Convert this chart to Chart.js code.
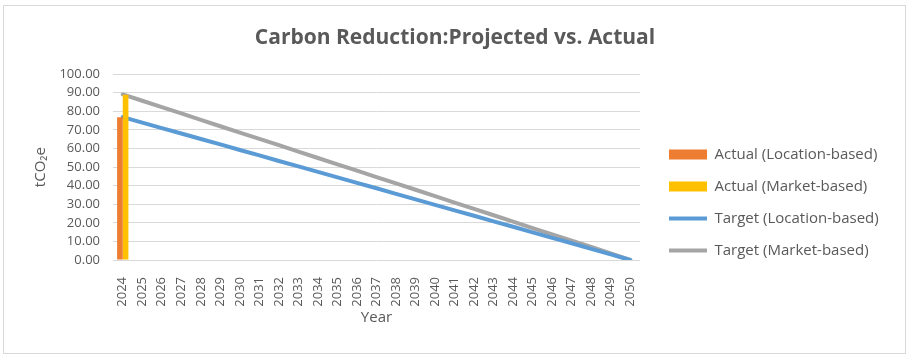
<!DOCTYPE html>
<html>
<head>
<meta charset="utf-8">
<script src="https://cdn.jsdelivr.net/npm/chart.js@4/dist/chart.umd.min.js"></script>
<style>
  html, body { margin: 0; padding: 0; background: #ffffff; }
  #wrap { position: relative; width: 910px; height: 355px; }
  canvas { display: block; }
</style>
</head>
<body>
<div id="wrap"><canvas id="c" width="910" height="355"></canvas></div>
<script>
const years = ['2024','2025','2026','2027','2028','2029','2030','2031','2032','2033','2034','2035','2036','2037','2038','2039','2040','2041','2042','2043','2044','2045','2046','2047','2048','2049','2050'];
const actualLocation = [76.8, null, null, null, null, null, null, null, null, null, null, null, null, null, null, null, null, null, null, null, null, null, null, null, null, null, null];
const actualMarket = [89.0, null, null, null, null, null, null, null, null, null, null, null, null, null, null, null, null, null, null, null, null, null, null, null, null, null, null];
const targetLocation = [76.9, 73.9, 71.0, 68.1, 65.1, 62.2, 59.2, 56.3, 53.3, 50.4, 47.4, 44.5, 41.5, 38.6, 35.6, 32.6, 29.7, 26.7, 23.8, 20.8, 17.9, 14.9, 11.9, 9.0, 6.0, 3.0, 0.0];
const targetMarket = [89.1, 85.7, 82.3, 78.9, 75.4, 72.0, 68.6, 65.2, 61.8, 58.3, 54.9, 51.5, 48.1, 44.6, 41.2, 37.8, 34.4, 30.9, 27.5, 24.1, 20.7, 17.2, 13.8, 10.4, 7.0, 3.5, 0.0];
const yTicks = [0, 10, 20, 30, 40, 50, 60, 70, 80, 90, 100];
const seriesNames = ['Actual (Location-based)', 'Actual (Market-based)', 'Target (Location-based)', 'Target (Market-based)'];
const chartTitle = 'Carbon Reduction:Projected vs. Actual';
const xTitle = 'Year';
const yTitle = 'tCO\u2082e';

const FONT = "'Open Sans', 'Noto Sans', sans-serif";
const TEXT = '#595959';
Chart.defaults.font.family = FONT;
Chart.defaults.color = TEXT;

const framePlugin = {
  id: 'frame',
  beforeInit(chart) {
    const lg = chart.legend;
    if (lg) {
      const origFit = lg.fit.bind(lg);
      lg.fit = function () { origFit(); this.width = 270; };
    }
  },
  afterLayout(chart) {
    const lg = chart.legend;
    if (lg) { lg.left += 12; lg.top += 130; }
  },
  beforeDraw(chart) {
    const ctx = chart.ctx;
    ctx.save();
    ctx.fillStyle = '#ffffff';
    ctx.fillRect(0, 0, chart.width, chart.height);
    ctx.strokeStyle = '#d9d9d9';
    ctx.lineWidth = 1;
    ctx.strokeRect(3.5, 5.5, 902, 348);
    ctx.restore();
  }
};

new Chart(document.getElementById('c'), {
  type: 'bar',
  data: {
    labels: years,
    datasets: [
      { type: 'bar', label: seriesNames[0], data: actualLocation, backgroundColor: '#ed7d31', borderWidth: 0, pointStyle: 'rect', categoryPercentage: 0.58, barPercentage: 1.0 },
      { type: 'bar', label: seriesNames[1], data: actualMarket, backgroundColor: '#ffc000', borderWidth: 0, pointStyle: 'rect', categoryPercentage: 0.58, barPercentage: 1.0 },
      { type: 'line', label: seriesNames[2], data: targetLocation, borderColor: '#5b9bd5', backgroundColor: '#5b9bd5', borderWidth: 4, borderCapStyle: 'round', borderJoinStyle: 'round', pointRadius: 0, pointHoverRadius: 0, pointStyle: 'line', tension: 0, fill: false },
      { type: 'line', label: seriesNames[3], data: targetMarket, borderColor: '#a5a5a5', backgroundColor: '#a5a5a5', borderWidth: 4, borderCapStyle: 'round', borderJoinStyle: 'round', pointRadius: 0, pointHoverRadius: 0, pointStyle: 'line', tension: 0, fill: false }
    ]
  },
  options: {
    responsive: false,
    animation: false,
    events: [],
    layout: { padding: { top: 0, bottom: 0, left: 0, right: 0 } },
    plugins: {
      title: {
        display: true,
        text: chartTitle,
        color: TEXT,
        font: { size: 21, weight: 'bold', family: FONT },
        padding: { top: 25, bottom: 24 }
      },
      legend: {
        position: 'right',
        align: 'start',
        labels: {
          usePointStyle: true,
          pointStyleWidth: 38,
          boxHeight: 10,
          padding: 17,
          color: TEXT,
          font: { size: 15, family: FONT }
        }
      },
      tooltip: { enabled: false }
    },
    scales: {
      x: {
        offset: true,
        grid: { display: false },
        border: { display: false },
        ticks: { autoSkip: false, maxRotation: 90, minRotation: 90, padding: 9, color: TEXT, font: { size: 13 } },
        title: { display: true, text: xTitle, color: TEXT, font: { size: 15 }, padding: { top: 0, bottom: 28 } },
        afterFit(scale) { scale.height = 95; }
      },
      y: {
        min: 0,
        max: 100,
        afterBuildTicks(scale) { scale.ticks = yTicks.map(v => ({ value: v })); },
        grid: { color: '#d9d9d9', lineWidth: 1, drawTicks: false },
        border: { display: false },
        ticks: { autoSkip: false, padding: 13, color: TEXT, font: { size: 13 }, callback: v => Number(v).toFixed(2) },
        title: { display: true, text: yTitle, color: TEXT, font: { size: 15 }, padding: { top: 32, bottom: 0 } },
        afterFit(scale) { scale.width = 113; }
      }
    }
  },
  plugins: [framePlugin]
});
</script>
</body>
</html>
